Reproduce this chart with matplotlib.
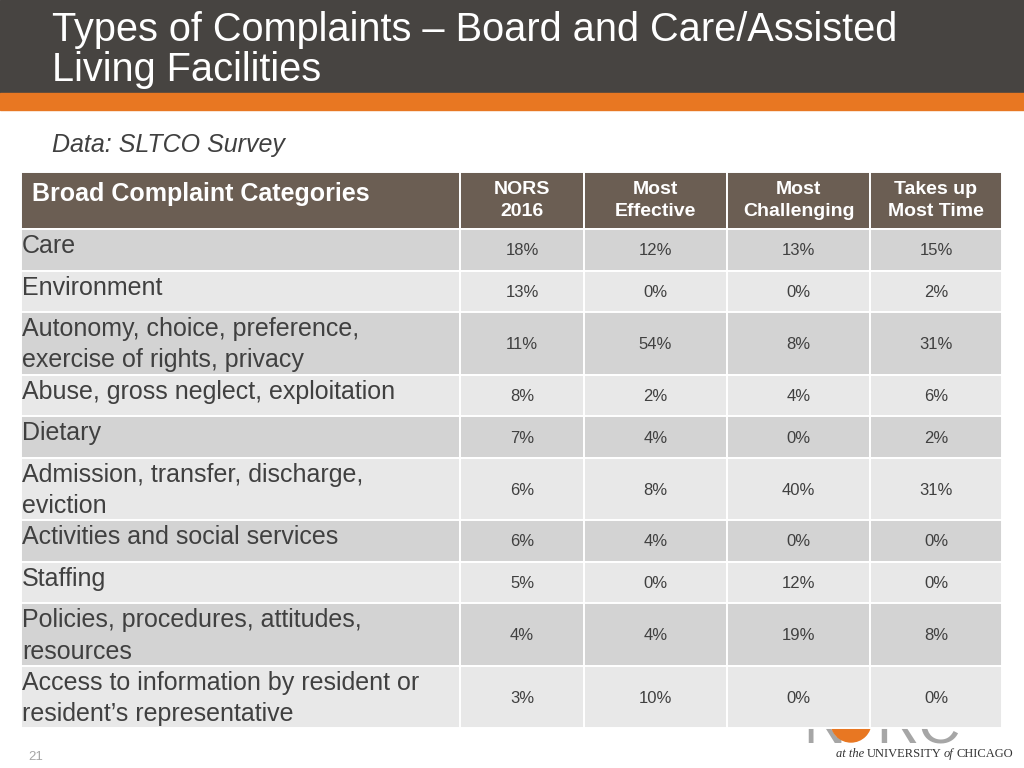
import matplotlib
matplotlib.use("Agg")
import matplotlib.pyplot as plt
from matplotlib.patches import Rectangle, Circle

plt.rcParams['font.family'] = ['Liberation Sans', 'DejaVu Sans']

# --- data ---
title = "Types of Complaints \u2013 Board and Care/Assisted\nLiving Facilities"
subtitle = "Data: SLTCO Survey"
first_header = "Broad Complaint Categories"
col_headers = ["NORS\n2016", "Most\nEffective", "Most\nChallenging", "Takes up\nMost Time"]
categories = [
    "Care",
    "Environment",
    "Autonomy, choice, preference,\nexercise of rights, privacy",
    "Abuse, gross neglect, exploitation",
    "Dietary",
    "Admission, transfer, discharge,\neviction",
    "Activities and social services",
    "Staffing",
    "Policies, procedures, attitudes,\nresources",
    "Access to information by resident or\nresident\u2019s representative",
]
nors_2016 = [18, 13, 11, 8, 7, 6, 6, 5, 4, 3]
most_effective = [12, 0, 54, 2, 4, 8, 4, 0, 4, 10]
most_challenging = [13, 0, 8, 4, 0, 40, 0, 12, 19, 0]
most_time = [15, 2, 31, 6, 2, 31, 0, 0, 8, 0]
page_no = "21"

# --- colours ---
dark = "#474441"
orange = "#E87722"
head_col = "#6B5E53"
row_dark = "#D3D3D3"
row_light = "#E8E8E8"
txt = "#404040"

fig = plt.figure(figsize=(10.24, 7.68), dpi=100)
ax = fig.add_axes([0, 0, 1, 1])
ax.set_xlim(0, 1024)
ax.set_ylim(768, 0)
ax.axis("off")

# header band
ax.add_patch(Rectangle((0, 0), 1024, 93, color=dark, zorder=1))
ax.add_patch(Rectangle((0, 93), 1024, 17, color=orange, zorder=1))
ax.text(52, 11, title, color="white", fontsize=28.6, va="top", ha="left",
        linespacing=1.06, zorder=3)
ax.text(52, 152, subtitle, color=txt, fontsize=18, style="italic", va="baseline", zorder=3)

# logo (partly hidden by the table)
below = Rectangle((0, 729), 1024, 39, transform=ax.transData)
for s, x in [("N", 803), ("RC", 876)]:
    t = ax.text(x, 743, s, color="#A6A6A6", fontsize=42, va="baseline", zorder=1)
    t.set_clip_path(below)
ax.add_patch(Circle((851, 722), 20, color=orange, zorder=1))
x0 = 836
rend = fig.canvas.get_renderer()
for s, st in [("at the", "italic"), ("UNIVERSITY", "normal"), ("of", "italic"), ("CHICAGO", "normal")]:
    t = ax.text(x0, 757, s, fontsize=9, family="Liberation Serif", style=st,
                color="#333333", va="baseline", zorder=3)
    x0 += t.get_window_extent(renderer=rend).width + 2.5
ax.text(28, 760, page_no, color="#A6A6A6", fontsize=9.5, va="baseline", zorder=3)

# table
col_x = [21, 460, 584, 727, 870, 1002]
top, head_h = 172, 57
cols = [nors_2016, most_effective, most_challenging, most_time]

ax.add_patch(Rectangle((col_x[0], top), col_x[1] - col_x[0], head_h, facecolor=head_col,
                       edgecolor="white", lw=1.4, zorder=2))
ax.text(32, top + head_h / 2 - 7, first_header, color="white", fontsize=18, weight="bold",
        va="center", ha="left", zorder=3)
for j, h in enumerate(col_headers):
    ax.add_patch(Rectangle((col_x[j + 1], top), col_x[j + 2] - col_x[j + 1], head_h,
                           facecolor=head_col, edgecolor="white", lw=1.4, zorder=2))
    ax.text((col_x[j + 1] + col_x[j + 2]) / 2, top + head_h / 2, h, color="white",
            fontsize=14, weight="bold", ha="center", va="center", linespacing=1.45, zorder=3)

y = top + head_h
for i, cat in enumerate(categories):
    n = cat.count("\n") + 1
    h = 20.8 * (n + 1)
    fc = row_dark if i % 2 == 0 else row_light
    for j in range(5):
        ax.add_patch(Rectangle((col_x[j], y), col_x[j + 1] - col_x[j], h, facecolor=fc,
                               edgecolor="white", lw=1.4, zorder=2))
    ax.text(22, y + 5, cat, color=txt, fontsize=18, va="top", ha="left",
            linespacing=1.38, zorder=3)
    for j, vals in enumerate(cols):
        ax.text((col_x[j + 1] + col_x[j + 2]) / 2, y + h / 2 + 1, f"{vals[i]}%", color=txt,
                fontsize=12, ha="center", va="center", zorder=3)
    y += h

fig.savefig("out.png", dpi=100)
